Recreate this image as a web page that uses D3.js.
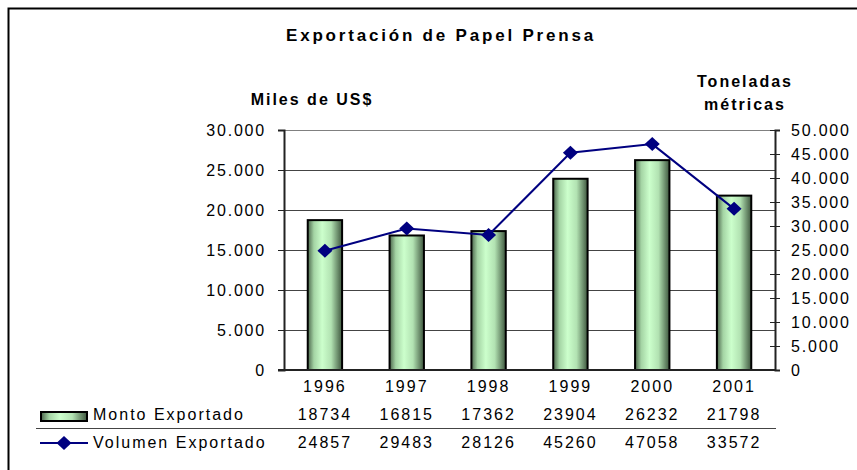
<!DOCTYPE html>
<html lang="es">
<head>
<meta charset="UTF-8">
<title>Exportación de Papel Prensa</title>
<script src="https://d3js.org/d3.v7.min.js"></script>
<style>
    body { margin: 0; background: #fff; }
    text { font-family: "Liberation Sans", Arial, sans-serif; fill: #000; }
</style>
</head>
<body>
<div id="chart"></div>
<script>
    // data
    var years = ["1996", "1997", "1998", "1999", "2000", "2001"];
    var monto = [18734, 16815, 17362, 23904, 26232, 21798];     // Miles de US$
    var volumen = [24857, 29483, 28126, 45260, 47058, 33572];   // Toneladas métricas
    var leftTicks = [0, 5000, 10000, 15000, 20000, 25000, 30000];
    var rightTicks = [0, 5000, 10000, 15000, 20000, 25000, 30000, 35000, 40000, 45000, 50000];

    var width = 857, height = 470;
    var plot = { left: 284, right: 775, top: 130, bottom: 370 };

    var es = d3.formatLocale({ decimal: ",", thousands: ".", grouping: [3], currency: ["", ""] });
    var fmt = es.format(",");

    var svg = d3.select("#chart").append("svg")
        .attr("width", width)
        .attr("height", height);

    // outer chart frame (runs off the right and bottom of the picture)
    svg.append("rect")
        .attr("x", 8.5).attr("y", 8.5)
        .attr("width", width + 20).attr("height", height + 20)
        .attr("fill", "#fff")
        .attr("stroke", "#000")
        .attr("stroke-width", 2);

    var defs = svg.append("defs");
    var grad = defs.append("linearGradient")
        .attr("id", "barGrad")
        .attr("x1", "0%").attr("x2", "100%")
        .attr("y1", "0%").attr("y2", "0%");
    grad.append("stop").attr("offset", "0%").attr("stop-color", "#4a644a");
    grad.append("stop").attr("offset", "18%").attr("stop-color", "#a4d4a4");
    grad.append("stop").attr("offset", "42%").attr("stop-color", "#ccffcc");
    grad.append("stop").attr("offset", "68%").attr("stop-color", "#b2e2b2");
    grad.append("stop").attr("offset", "100%").attr("stop-color", "#3e563e");

    var x = d3.scaleBand()
        .domain(years)
        .range([plot.left, plot.right])
        .paddingInner(0.58)
        .paddingOuter(0.29);

    var yL = d3.scaleLinear().domain([0, 30000]).range([plot.bottom, plot.top]);
    var yR = d3.scaleLinear().domain([0, 50000]).range([plot.bottom, plot.top]);

    // gridlines
    svg.append("g")
        .selectAll("line")
        .data(leftTicks.filter(function (d) { return d > 0; }))
        .join("line")
        .attr("x1", plot.left).attr("x2", plot.right)
        .attr("y1", function (d) { return yL(d) + 0.5; })
        .attr("y2", function (d) { return yL(d) + 0.5; })
        .attr("stroke", function (d) { return d === 30000 ? "#808080" : "#444"; })
        .attr("stroke-width", 1.2);

    // bars
    svg.append("g")
        .selectAll("rect")
        .data(years)
        .join("rect")
        .attr("x", function (d) { return x(d); })
        .attr("y", function (d, i) { return yL(monto[i]); })
        .attr("width", x.bandwidth())
        .attr("height", function (d, i) { return yL(0) - yL(monto[i]); })
        .attr("fill", "url(#barGrad)")
        .attr("stroke", "#000")
        .attr("stroke-width", 2);

    // left axis
    var axL = svg.append("g")
        .attr("transform", "translate(" + plot.left + ",0)")
        .call(d3.axisLeft(yL).tickValues(leftTicks).tickFormat(fmt).tickSize(6).tickPadding(12));
    axL.select(".domain").attr("stroke", "#222").attr("stroke-width", 2);
    axL.selectAll(".tick line").attr("stroke", "#222");
    axL.selectAll(".tick text")
        .attr("fill", "#000")
        .style("font-size", "16px")
        .style("letter-spacing", "1.8px");

    // right axis, ticks cross the line
    var axR = svg.append("g")
        .attr("transform", "translate(" + plot.right + ",0)")
        .call(d3.axisRight(yR).tickValues(rightTicks).tickFormat(fmt).tickSize(5).tickPadding(11));
    axR.select(".domain").attr("stroke", "#222").attr("stroke-width", 2);
    axR.selectAll(".tick line").attr("x1", -5).attr("stroke", "#222");
    axR.selectAll(".tick text")
        .attr("fill", "#000")
        .style("font-size", "16px")
        .style("letter-spacing", "1.8px");

    // bottom axis line
    svg.append("line")
        .attr("x1", plot.left - 6).attr("x2", plot.right)
        .attr("y1", plot.bottom).attr("y2", plot.bottom)
        .attr("stroke", "#222").attr("stroke-width", 2);

    // volume line
    var cx = function (d, i) { return x(years[i]) + x.bandwidth() / 2; };
    var line = d3.line()
        .x(function (d, i) { return x(years[i]) + x.bandwidth() / 2; })
        .y(function (d) { return yR(d); });

    svg.append("path")
        .datum(volumen)
        .attr("d", line)
        .attr("fill", "none")
        .attr("stroke", "#000080")
        .attr("stroke-width", 2);

    var diamond = "M0,-7L7.5,0L0,7L-7.5,0Z";
    svg.append("g")
        .selectAll("path")
        .data(volumen)
        .join("path")
        .attr("d", diamond)
        .attr("transform", function (d, i) { return "translate(" + cx(d, i) + "," + yR(d) + ")"; })
        .attr("fill", "#000080");

    // titles
    svg.append("text")
        .attr("x", 441).attr("y", 41)
        .attr("text-anchor", "middle")
        .style("font-size", "17px").style("font-weight", "bold").style("letter-spacing", "2.8px")
        .text("Exportación de Papel Prensa");

    svg.append("text")
        .attr("x", 312).attr("y", 105)
        .attr("text-anchor", "middle")
        .style("font-size", "16px").style("font-weight", "bold").style("letter-spacing", "2px")
        .text("Miles de US$");

    svg.append("text")
        .attr("x", 745).attr("y", 87)
        .attr("text-anchor", "middle")
        .style("font-size", "16px").style("font-weight", "bold").style("letter-spacing", "2px")
        .text("Toneladas");

    svg.append("text")
        .attr("x", 745).attr("y", 110)
        .attr("text-anchor", "middle")
        .style("font-size", "16px").style("font-weight", "bold").style("letter-spacing", "2px")
        .text("métricas");

    // data table under the axis
    var table = svg.append("g").style("font-size", "16px").style("letter-spacing", "2px");

    table.selectAll(".yr")
        .data(years)
        .join("text")
        .attr("class", "yr")
        .attr("x", function (d) { return x(d) + x.bandwidth() / 2; })
        .attr("y", 392)
        .attr("text-anchor", "middle")
        .text(function (d) { return d; });

    table.selectAll(".mo")
        .data(monto)
        .join("text")
        .attr("class", "mo")
        .attr("x", cx)
        .attr("y", 420)
        .attr("text-anchor", "middle")
        .text(function (d) { return d; });

    table.selectAll(".vo")
        .data(volumen)
        .join("text")
        .attr("class", "vo")
        .attr("x", cx)
        .attr("y", 448)
        .attr("text-anchor", "middle")
        .text(function (d) { return d; });

    svg.append("line")
        .attr("x1", 36).attr("x2", plot.right + 1)
        .attr("y1", 428.5).attr("y2", 428.5)
        .attr("stroke", "#444").attr("stroke-width", 1);

    // legend keys
    svg.append("rect")
        .attr("x", 41).attr("y", 412)
        .attr("width", 46).attr("height", 9)
        .attr("fill", "url(#barGrad)")
        .attr("stroke", "#000").attr("stroke-width", 2);

    svg.append("line")
        .attr("x1", 40).attr("x2", 88)
        .attr("y1", 443).attr("y2", 443)
        .attr("stroke", "#000080").attr("stroke-width", 2);
    svg.append("path")
        .attr("d", diamond)
        .attr("transform", "translate(64,443)")
        .attr("fill", "#000080");

    table.append("text").attr("x", 93).attr("y", 420).text("Monto Exportado");
    table.append("text").attr("x", 93).attr("y", 448).text("Volumen Exportado");
</script>
</body>
</html>
